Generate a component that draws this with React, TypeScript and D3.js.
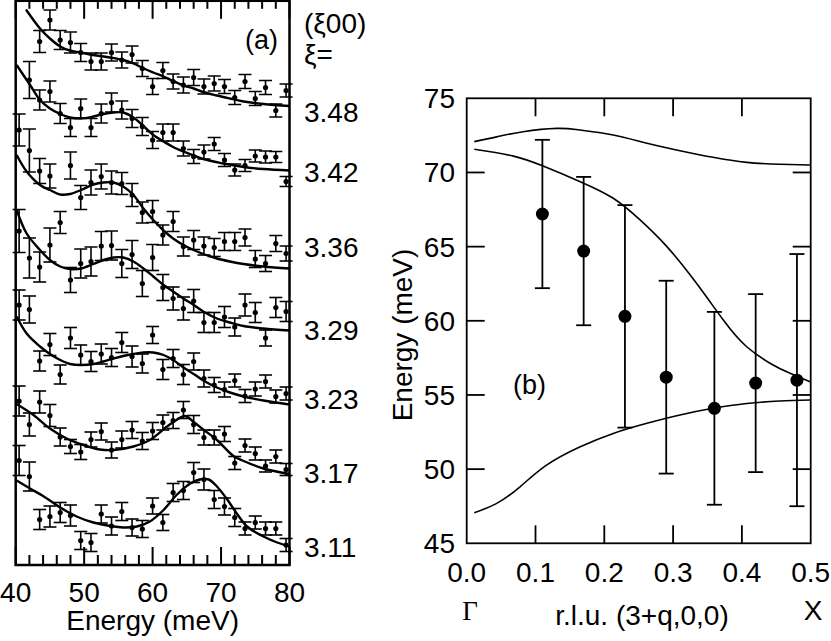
import React from 'react';
import * as d3 from 'd3';

// ---- panel (a): constant-Q scans, intensity in arb. units with vertical offsets ----
const energies = [40.5, 42, 43.5, 45, 46.5, 48, 49.5, 51, 52.5, 54, 55.5, 57, 58.5, 60, 61.5, 63, 64.5, 66, 67.5, 69, 70.5, 72, 73.5, 75, 76.5, 78, 79.5];

const xiLabels = ['3.48', '3.42', '3.36', '3.29', '3.23', '3.17', '3.11'];
const xiLevels = [90.6, 78.6, 63.6, 47, 33.2, 18.4, 3.6];

const int348 = [null, null, 104.7, 109, 105, 104.5, 102.5, 100.7, 100.7, 102.5, 101, 102.1, 99.3, 95.7, 98.9, 96.7, 96, 97.5, 95.7, 96.3, 95.7, 93.5, 96.7, 93.3, 95.5, 90.9, 94.9];
const err348 = [null, null, 2.2, 2.0, 1.9, 2.1, 1.8, 1.7, 1.7, 1.7, 1.6, 1.7, 1.6, 1.6, 1.6, 1.5, 1.6, 1.6, 1.5, 1.5, 1.4, 1.4, 1.4, 1.4, 1.4, 1.3, 1.3];
const int342 = [null, 97, 93, 94.7, 90.3, 87.5, 91.3, 87.5, 90.3, 92.5, 91, 89.3, 87.7, 85, 86.5, 86.5, 83.3, 81.7, 82.6, 84.2, 81, 79, 79.9, 81.8, 81.6, 81.6, 76.7];
const err342 = [null, 3.7, 2.0, 2.1, 2.0, 1.8, 1.9, 1.8, 1.9, 1.9, 1.8, 1.8, 1.8, 1.7, 1.7, 1.7, 1.5, 1.4, 1.4, 1.3, 1.3, 1.2, 1.2, 1.2, 1.2, 1.1, 1.0];
const int336 = [87, 82.9, 78.8, 77.8, null, 79.9, 73.5, 76.5, 77.7, 76.5, 76.3, 74, 70.5, 70.7, 66, 68.7, 63.7, 65, 63.8, 63.5, 64.7, 64.7, 65.5, 61.2, 60.3, 64.3, 62.3];
const err336 = [3.2, 4.3, 2.5, 2.4, null, 2.7, 2.4, 2.5, 2.5, 2.3, 2.2, 2.3, 2.1, 2.2, 2.0, 2.0, 1.9, 1.9, 1.8, 1.8, 1.8, 1.8, 1.7, 1.7, 1.6, 1.6, 1.5];
const int329 = [66.8, 61.4, 59.6, 64, 68.5, 57, 60.3, 60.7, 63.8, 63.9, 60.3, 62.1, 56.3, 61.5, 55.5, 53.3, 51.3, 52.8, 48.5, 48.5, 49.6, 47.6, 52, 50.5, 45.4, 51.5, 50.7];
const err329 = [4.3, 4.0, 3.0, 3.4, 2.2, 2.5, 2.9, 2.9, 2.9, 2.9, 2.8, 2.8, 2.6, 2.6, 2.6, 2.3, 2.3, 2.3, 2.0, 2.0, 2.1, 1.8, 2.2, 2.0, 1.6, 2.0, 2.0];
const int323 = [52, 51.1, 40.8, 44.1, 38.1, 45.4, 42, 40.7, 42.2, 41.5, 44.5, 41.7, 40.3, 46, 39.1, 41.3, 38.1, 40.7, 37.3, 36, 35.1, 36.9, 33.8, 35.2, 36.7, 33.7, 34.3];
const err323 = [3.0, 2.7, 2.0, 2.2, 1.9, 2.1, 2.0, 2.0, 2.0, 1.8, 2.0, 2.1, 1.9, 1.7, 2.0, 1.8, 2.0, 1.7, 1.7, 1.5, 1.5, 1.3, 1.3, 1.4, 1.3, 1.3, 1.3];
const int317 = [32.8, 28.1, 32.6, 29.9, 25.6, 23.7, 22.6, 25.1, 26.7, 23, 25.1, 27, 24.8, 26.8, 28.5, 28.9, 31, 28.1, 25.5, 25.5, 26.2, 20.4, 23.9, 22.3, 19.8, 21.7, 19.1];
const err317 = [3.0, 2.3, 2.2, 2.2, 1.8, 1.4, 1.5, 1.5, 1.7, 1.6, 1.7, 1.7, 1.7, 1.7, 1.5, 1.6, 1.7, 1.8, 1.5, 1.5, 1.5, 1.3, 1.3, 1.3, 1.2, 1.3, 1.2];
const int311 = [20.9, 17.7, 9.1, 9.7, 10.5, 9.9, 4.9, 4.5, 10.2, 7.8, 10.7, 7.5, 7.2, 11.8, 8.5, 14.5, 14.9, 18.5, 17.1, 13.1, 11.7, 9.5, 7.3, 8.5, 7.3, 7.3, 4];
const err311 = [3.0, 2.9, 2.0, 2.1, 2.0, 2.1, 1.8, 1.8, 1.8, 1.8, 1.8, 1.7, 1.7, 1.6, 1.6, 1.8, 1.8, 2.0, 2.1, 1.8, 1.7, 1.8, 1.3, 1.3, 1.3, 1.3, 1.3];

// fitted lines
const fit348E = [41.5, 43.55, 45, 46.5, 47.9, 49.5, 51.3, 53.8, 55.7, 57.2, 58.7, 60.1, 61.6, 63, 64.5, 66, 67.4, 69.4, 71.3, 73.3, 76.2, 80];
const fit348I = [111.1, 107.3, 105.3, 103.7, 102.9, 102.5, 102, 101.5, 101, 100.3, 99.3, 98.5, 97.7, 96.8, 95.9, 95.3, 94.6, 93.9, 93.3, 92.7, 92.2, 91.8];
const fit342E = [40.14, 42.1, 43.55, 45, 46.5, 47.94, 49.55, 51.35, 52.8, 54.3, 55.7, 57.2, 58.66, 60.1, 61.6, 63, 64.5, 67.4, 70.35, 73.3, 76.2, 80];
const fit342I = [100, 96, 93, 91.3, 90.2, 89.5, 89.3, 89.7, 90.2, 90.5, 90.5, 89.5, 87.8, 86, 84.7, 83.6, 82.7, 81.2, 80.3, 79.6, 79.2, 78.9];
const fitE = [40.14, 41.6, 43.55, 45, 46.5, 47.94, 49.55, 51.35, 52.8, 54.3, 55.7, 57.2, 58.66, 60.1, 61.6, 63, 64.5, 66, 67.4, 69.4, 71.3, 73.3, 76.2, 80];
const fit336I = [82, 78.7, 76, 75, 74.1, 74.2, 75, 76.1, 76.5, 76.5, 75.7, 74, 71.3, 69, 66.9, 65.3, 64, 63, 62.2, 61.3, 60.7, 60.2, 59.7, 59.3];
const fit329I = [71, 66.3, 63, 61, 59.7, 59.2, 59.3, 60.2, 61, 61.5, 61.5, 60.7, 59.3, 57.7, 56, 54.7, 53.3, 52, 50.7, 49.3, 48.5, 47.8, 47.3, 46.9];
const fit323I = [49.7, 46.3, 43.7, 42.2, 41, 40.2, 40, 40.2, 40.7, 41.3, 41.8, 42.2, 42.5, 42.5, 42, 41, 39.5, 38.2, 36.9, 35.5, 34.5, 33.7, 32.9, 32.1];
const fit317E = [40, 42.6, 45, 47.45, 49.9, 52.3, 54.3, 57.2, 59.6, 62.1, 63.5, 64.75, 66, 67.4, 69.4, 71.8, 73.3, 76.2, 80];
const fit317I = [32.3, 30, 27.3, 25.3, 24, 23.1, 23, 23.7, 25, 27.7, 29, 29.8, 28.6, 27.1, 25, 21.8, 20.8, 19.3, 18.2];
const fit311E = [40.14, 42.1, 44, 46.5, 48.9, 51.35, 53.8, 55.7, 57.7, 59.6, 61.6, 63.5, 65.5, 66.9, 68.2, 69.4, 70.8, 72.3, 73.8, 76.2, 78.2, 80];
const fit311I = [16.9, 15.3, 13.8, 11.5, 9.7, 8.5, 7.8, 7.5, 7.7, 8.7, 11, 14, 16.3, 17.1, 17.1, 15.7, 13.3, 10.3, 7.7, 5.7, 4.5, 3.7];

const energyTicks = [40, 50, 60, 70, 80];

// ---- panel (b): dispersion ----
const qPoints = [0.11, 0.17, 0.23, 0.29, 0.36, 0.42, 0.48];
const ePoints = [67.2, 64.7, 60.3, 56.2, 54.1, 55.8, 56.0];
const eErrors = [5.0, 5.0, 7.5, 6.5, 6.5, 6.0, 8.5];

const upperQ = [0.011, 0.0436, 0.082, 0.131, 0.165, 0.213, 0.262, 0.31, 0.358, 0.407, 0.455, 0.499];
const upperE = [72.08, 72.4, 72.75, 72.97, 72.86, 72.53, 71.97, 71.47, 71.02, 70.68, 70.55, 70.5];
const middleQ = [0.011, 0.068, 0.111, 0.165, 0.213, 0.252, 0.291, 0.334, 0.373, 0.407, 0.446, 0.47, 0.499];
const middleE = [71.56, 71.1, 70.43, 69.38, 68.26, 66.8, 65.0, 62.53, 60.05, 58.25, 57.0, 56.46, 55.89];
const lowerQ = [0.011, 0.0436, 0.0775, 0.116, 0.165, 0.213, 0.262, 0.31, 0.358, 0.407, 0.455, 0.499];
const lowerE = [47.06, 47.69, 48.81, 50.27, 51.51, 52.41, 53.09, 53.65, 54.1, 54.43, 54.59, 54.66];

const qTicks = [0, 0.1, 0.2, 0.3, 0.4, 0.5];
const eTicks = [45, 50, 55, 60, 65, 70, 75];

const sans = '"Liberation Sans", Arial, Helvetica, sans-serif';
const serif = '"Liberation Serif", "Times New Roman", serif';

const zip = (xs: number[], ys: number[]) => xs.map((x, i) => [x, ys[i]] as [number, number]);

export default function App() {
  const scans = [
    { label: xiLabels[0], level: xiLevels[0], y: int348, e: err348, fit: zip(fit348E, fit348I) },
    { label: xiLabels[1], level: xiLevels[1], y: int342, e: err342, fit: zip(fit342E, fit342I) },
    { label: xiLabels[2], level: xiLevels[2], y: int336, e: err336, fit: zip(fitE, fit336I) },
    { label: xiLabels[3], level: xiLevels[3], y: int329, e: err329, fit: zip(fitE, fit329I) },
    { label: xiLabels[4], level: xiLevels[4], y: int323, e: err323, fit: zip(fitE, fit323I) },
    { label: xiLabels[5], level: xiLevels[5], y: int317, e: err317, fit: zip(fit317E, fit317I) },
    { label: xiLabels[6], level: xiLevels[6], y: int311, e: err311, fit: zip(fit311E, fit311I) },
  ];

  // panel (a) scales
  const xA = d3.scaleLinear().domain([40, 80]).range([15.7, 289.5]);
  const yA = d3.scaleLinear().domain([0, 113]).range([565, 0]);
  const lineA = d3.line<[number, number]>()
    .x(d => xA(d[0]))
    .y(d => yA(d[1]))
    .curve(d3.curveCatmullRom.alpha(0.5));
  const minorA = d3.range(40, 81, 2);

  // panel (b) scales
  const xB = d3.scaleLinear().domain([0, 0.5]).range([466.7, 810.7]);
  const yB = d3.scaleLinear().domain([45, 75]).range([543.3, 98.3]);
  const lineB = d3.line<[number, number]>()
    .x(d => xB(d[0]))
    .y(d => yB(d[1]))
    .curve(d3.curveNatural);

  const [aL, aR] = xA.range();
  const aT = 0.8, aB = yA(0);
  const [bL, bR] = xB.range();
  const bB = yB(45), bT = yB(75);

  return (
    <svg width={831} height={641} style={{ position: 'absolute', left: 0, top: 0, background: '#fff' }}
      fontFamily={sans}>
      <defs>
        <clipPath id="clipA">
          <rect x={0} y={aT} width={300} height={aB - aT} />
        </clipPath>
      </defs>

      {/* ----- panel (a) ----- */}
      <g clipPath="url(#clipA)">
        {scans.map((s, k) => (
          <g key={k}>
            {energies.map((en, i) => {
              const v = s.y[i];
              const er = s.e[i];
              if (v == null || er == null) return null;
              const cx = xA(en);
              return (
                <g key={i} stroke="#000" strokeWidth={1.6}>
                  <line x1={cx} x2={cx} y1={yA(v - er)} y2={yA(v + er)} />
                  <line x1={cx - 6.5} x2={cx + 6.5} y1={yA(v - er)} y2={yA(v - er)} />
                  <line x1={cx - 6.5} x2={cx + 6.5} y1={yA(v + er)} y2={yA(v + er)} />
                  <circle cx={cx} cy={yA(v)} r={2.6} fill="#000" stroke="none" />
                </g>
              );
            })}
            <path d={lineA(s.fit) || ''} fill="none" stroke="#000" strokeWidth={2.4} />
          </g>
        ))}
      </g>

      {/* ticks a */}
      <g stroke="#000" strokeWidth={2}>
        {minorA.map(t => {
          const major = t % 10 === 0;
          const x = xA(t);
          return (
            <g key={t}>
              <line x1={x} x2={x} y1={aB} y2={aB - (major ? 18 : 10)} />
              <line x1={x} x2={x} y1={aT} y2={aT + (major ? 18 : 8)} />
            </g>
          );
        })}
      </g>
      <rect x={aL} y={aT} width={aR - aL} height={aB - aT} fill="none" stroke="#000" strokeWidth={2.5} />

      {energyTicks.map(t => (
        <text key={t} x={xA(t)} y={602} fontSize={28} textAnchor="middle">{t}</text>
      ))}
      <text x={(aL + aR) / 2} y={630} fontSize={28} textAnchor="middle">Energy (meV)</text>
      <text x={245} y={49} fontSize={27}>(a)</text>
      <text x={304} y={33} fontSize={28}>(ξ00)</text>
      <text x={304} y={64} fontSize={28}>ξ=</text>
      {scans.map((s, k) => (
        <text key={k} x={304} y={yA(s.level) + 10} fontSize={28}>{s.label}</text>
      ))}

      {/* ----- panel (b) ----- */}
      <g stroke="#000" strokeWidth={1.8}>
        {eTicks.slice(1, -1).map(t => (
          <g key={t}>
            <line x1={bL} x2={bL + 18} y1={yB(t)} y2={yB(t)} />
            <line x1={bR} x2={bR - 18} y1={yB(t)} y2={yB(t)} />
          </g>
        ))}
        {qTicks.slice(1, -1).map(t => (
          <g key={t}>
            <line x1={xB(t)} x2={xB(t)} y1={bB} y2={bB - 18} />
            <line x1={xB(t)} x2={xB(t)} y1={bT} y2={bT + 18} />
          </g>
        ))}
      </g>
      <rect x={bL} y={bT} width={bR - bL} height={bB - bT} fill="none" stroke="#000" strokeWidth={1.8} />

      <path d={lineB(zip(upperQ, upperE)) || ''} fill="none" stroke="#000" strokeWidth={1.6} />
      <path d={lineB(zip(middleQ, middleE)) || ''} fill="none" stroke="#000" strokeWidth={1.6} />
      <path d={lineB(zip(lowerQ, lowerE)) || ''} fill="none" stroke="#000" strokeWidth={1.6} />

      {qPoints.map((q, i) => {
        const cx = xB(q);
        const lo = yB(ePoints[i] - eErrors[i]);
        const hi = yB(ePoints[i] + eErrors[i]);
        return (
          <g key={i} stroke="#000" strokeWidth={1.8}>
            <line x1={cx} x2={cx} y1={lo} y2={hi} />
            <line x1={cx - 7.5} x2={cx + 7.5} y1={lo} y2={lo} />
            <line x1={cx - 7.5} x2={cx + 7.5} y1={hi} y2={hi} />
            <circle cx={cx} cy={yB(ePoints[i])} r={6.5} fill="#000" stroke="none" />
          </g>
        );
      })}

      {eTicks.map(t => (
        <text key={t} x={455} y={yB(t) + 10} fontSize={28} textAnchor="end">{t}</text>
      ))}
      {qTicks.map(t => (
        <text key={t} x={xB(t)} y={582} fontSize={28} textAnchor="middle">{t.toFixed(1)}</text>
      ))}
      <text x={470} y={620} fontSize={27} fontFamily={serif} textAnchor="middle">Γ</text>
      <text x={642} y={625} fontSize={28} textAnchor="middle">r.l.u. (3+q,0,0)</text>
      <text x={813} y={620} fontSize={28} textAnchor="middle">X</text>
      <text transform="translate(412,335) rotate(-90)" fontSize={28} textAnchor="middle">Energy (meV)</text>
      <text x={513} y={394} fontSize={27}>(b)</text>
    </svg>
  );
}
